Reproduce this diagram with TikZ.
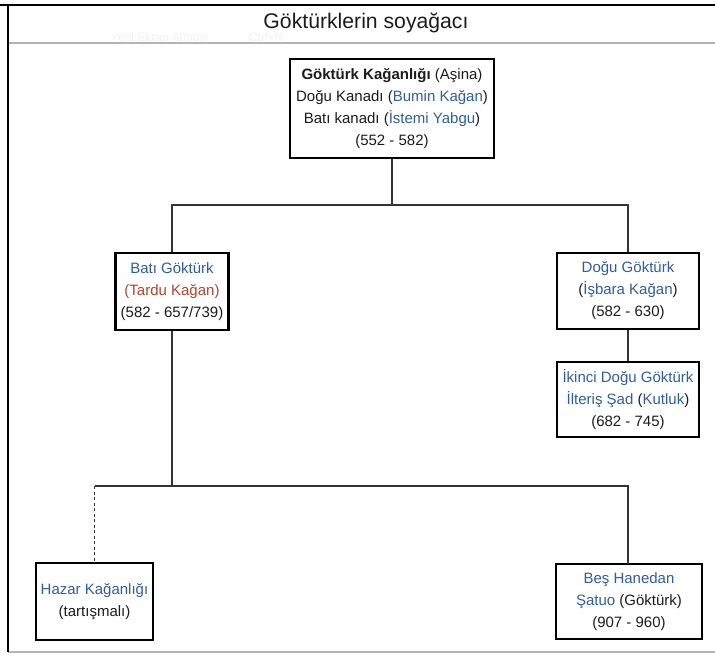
\documentclass[tikz,border=0pt]{standalone}
\usepackage{fontspec}
\setmainfont{Liberation Sans}
\definecolor{txt}{HTML}{1C1C1C}
\definecolor{lnk}{HTML}{2F5E9C}
\definecolor{red}{HTML}{B0452F}
\definecolor{frame}{HTML}{B4B4B4}
\definecolor{conn}{HTML}{333333}
\tikzset{
  box/.style={draw=black, line width=2.8pt, fill=white, align=center, inner sep=0pt,
    text=txt, font=\fontsize{15}{22}\selectfont},
  link/.style={draw=conn, line width=1.4pt},
}
\newcommand{\lk}[1]{\textcolor{lnk}{#1}}
\newcommand{\rd}[1]{\textcolor{red}{#1}}
\begin{document}
\begin{tikzpicture}[x=1pt,y=-1pt]
\useasboundingbox (0,0) rectangle (715,659);
\fill[white] (0,0) rectangle (715,659);
% frame
\coordinate (tl) at (0,5);
\coordinate (tr) at (715,5);
\coordinate (ltop) at (8,5);
\coordinate (lbot) at (8,652);
\coordinate (sepl) at (8,43);
\coordinate (sepr) at (715,43);
\coordinate (botr) at (715,652);
\draw[frame, line width=1.5pt] (sepl) -- (sepr);
\draw[frame, line width=1.5pt] (lbot) -- (botr);
\draw[black, line width=2.4pt] (tl) -- (tr);
\draw[black, line width=2pt] (ltop) -- (lbot);
% title
\node[text=gray!10, font=\fontsize{12}{14}\selectfont] (ghost1) at (160,37) {Yeni Ekran Alıntısı};
\node[text=gray!10, font=\fontsize{12}{14}\selectfont] (ghost2) at (266,37) {Ctrl+N};
\node[text=txt, font=\fontsize{21.2}{24}\selectfont] (title) at (366,23) {Göktürklerin soyağacı};
% nodes
\node[box, minimum width=204pt, minimum height=99pt] (top) at (392,108.5)
  {\textbf{Göktürk Kağanlığı} (Aşina)\\ Doğu Kanadı (\lk{Bumin Kağan})\\ Batı kanadı (\lk{İstemi Yabgu})\\ (552 - 582)};
\node[box, minimum width=113pt, minimum height=77pt] (bati) at (172,291.5)
  {\lk{Batı Göktürk}\\ \rd{(Tardu Kağan)}\\ (582 - 657/739)};
\node[box, minimum width=142pt, minimum height=76pt] (dogu) at (628,291)
  {\lk{Doğu Göktürk}\\ (\lk{İşbara Kağan})\\ (582 - 630)};
\node[box, minimum width=142pt, minimum height=75pt] (ikinci) at (628,399.5)
  {\lk{İkinci Doğu Göktürk}\\ \lk{İlteriş Şad} (\lk{Kutluk})\\ (682 - 745)};
\node[box, minimum width=117pt, minimum height=77pt] (hazar) at (94.5,601.5)
  {\lk{Hazar Kağanlığı}\\ (tartışmalı)};
\node[box, minimum width=146pt, minimum height=75pt] (bes) at (629,601.5)
  {\lk{Beş Hanedan}\\ \lk{Şatuo} (Göktürk)\\ (907 - 960)};
% junctions
\coordinate (j1) at (392,205);
\coordinate (j2) at (172,486);
% connectors
\draw[link] (top.south) -- (j1);
\draw[link] (bati.north) -- (bati.north |- j1) -- (dogu.north |- j1) -- (dogu.north);
\draw[link] (dogu.south) -- (ikinci.north);
\draw[link] (bati.south) -- (j2);
\draw[link] (hazar.north |- j2) -- (628,486) -- (628,564);
\draw[link, dash pattern=on 3pt off 2.5pt] (hazar.north |- j2) -- (hazar.north);
\end{tikzpicture}
\end{document}
